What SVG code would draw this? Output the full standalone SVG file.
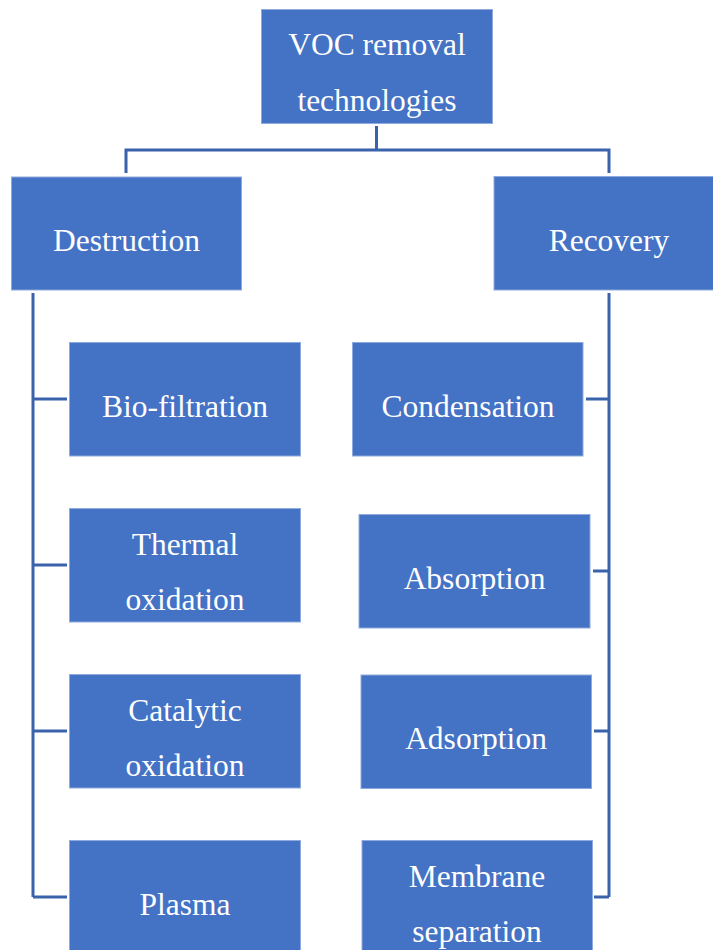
<svg xmlns="http://www.w3.org/2000/svg" width="713" height="950" viewBox="0 0 713 950">
<style>
.box{fill:#4472C4;stroke:#8FAADC;stroke-width:1}
.lbl{font-family:"Liberation Serif","Times New Roman",serif;font-size:31.5px;fill:#ffffff;text-anchor:middle}
.con{fill:none;stroke:#3B63AB;stroke-width:3}
</style>
<rect width="713" height="950" fill="#ffffff"/>
<g id="connectors">
<path class="con" d="M376.5,126 V150 M126,173 V150 H609 V173"/>
<path class="con" d="M33,293 V897 M33,399 H67 M33,565 H67 M33,731 H67 M33,897 H67"/>
<path class="con" d="M609,293 V897 M586,399 H609 M593,571 H609 M594,731 H609 M594,897 H609"/>
</g>
<g id="root"><rect class="box" x="261.5" y="9.5" width="231" height="114"/><text class="lbl" x="377" y="55">VOC removal</text><text class="lbl" x="377" y="110.5">technologies</text></g>
<g id="destruction"><rect class="box" x="11.5" y="177" width="230" height="113"/><text class="lbl" x="126.5" y="251">Destruction</text></g>
<g id="recovery"><rect class="box" x="494" y="176.5" width="230" height="113.5"/><text class="lbl" x="609" y="251">Recovery</text></g>
<g id="biofiltration"><rect class="box" x="69.5" y="342.5" width="231" height="113.5"/><text class="lbl" x="185" y="417">Bio-filtration</text></g>
<g id="thermal"><rect class="box" x="69.5" y="508.5" width="231" height="113.5"/><text class="lbl" x="185" y="555">Thermal</text><text class="lbl" x="185" y="610">oxidation</text></g>
<g id="catalytic"><rect class="box" x="69.5" y="674.5" width="231" height="113.5"/><text class="lbl" x="185" y="720.5">Catalytic</text><text class="lbl" x="185" y="776">oxidation</text></g>
<g id="plasma"><rect class="box" x="69.5" y="840.5" width="231" height="114"/><text class="lbl" x="185" y="914.5">Plasma</text></g>
<g id="condensation"><rect class="box" x="352.5" y="342.5" width="230.5" height="113.5"/><text class="lbl" x="468" y="417">Condensation</text></g>
<g id="absorption"><rect class="box" x="359" y="514.5" width="231" height="113.5"/><text class="lbl" x="474.5" y="588.5">Absorption</text></g>
<g id="adsorption"><rect class="box" x="361" y="675" width="230.5" height="113.5"/><text class="lbl" x="476" y="748.5">Adsorption</text></g>
<g id="membrane"><rect class="box" x="362" y="840.5" width="230.5" height="114"/><text class="lbl" x="477" y="887">Membrane</text><text class="lbl" x="477" y="942">separation</text></g>
</svg>
